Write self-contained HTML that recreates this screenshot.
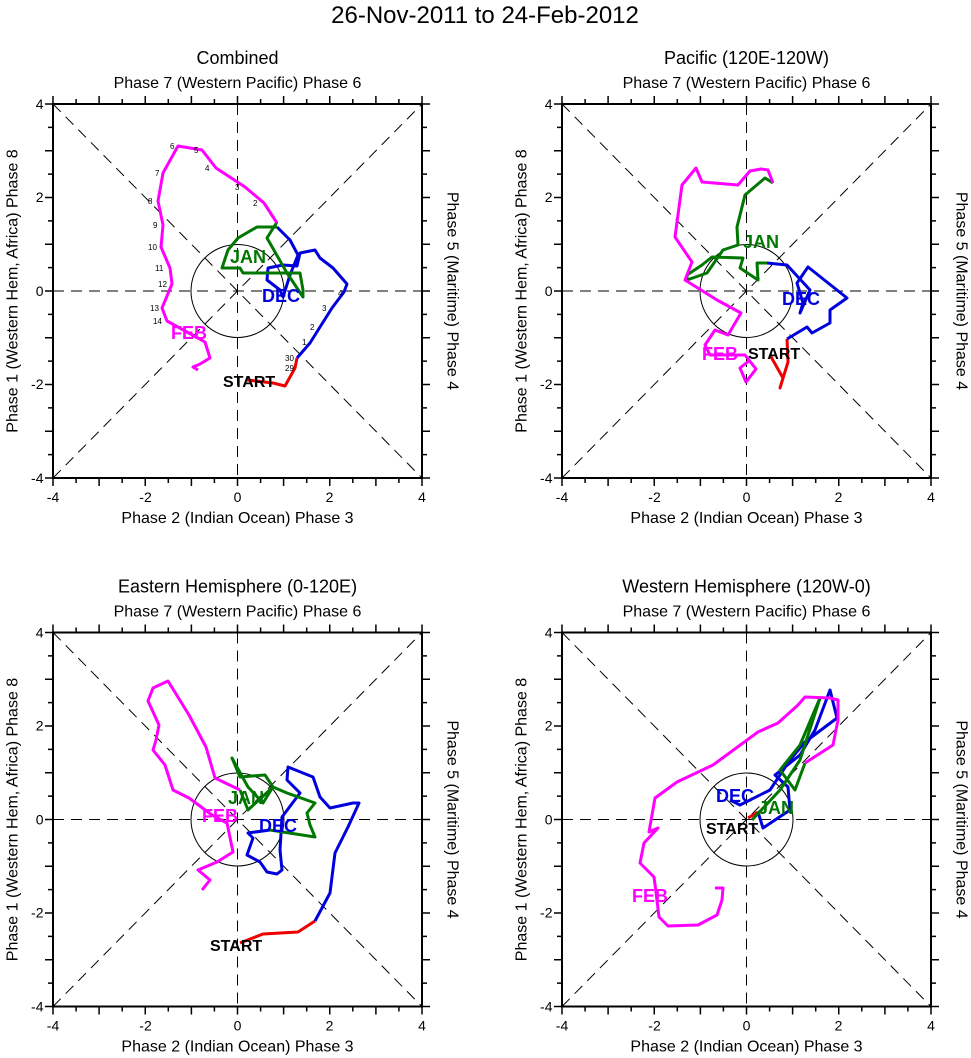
<!DOCTYPE html>
<html><head><meta charset="utf-8"><style>
body{margin:0;background:#fff;}
svg{display:block;font-family:"Liberation Sans",sans-serif;}
</style></head><body>
<svg width="971" height="1058" viewBox="0 0 971 1058" xmlns="http://www.w3.org/2000/svg">
<defs>
<g id="frame">
  <rect x="-184.5" y="-187" width="369" height="374" fill="none" stroke="#000" stroke-width="2"/>
  <g stroke="#000" stroke-width="1" stroke-dasharray="11,7" fill="none">
    <line x1="-184.5" y1="-187" x2="184.5" y2="187"/>
    <line x1="-184.5" y1="187" x2="184.5" y2="-187"/>
    <line x1="-184.5" y1="0" x2="184.5" y2="0"/>
    <line x1="0" y1="-187" x2="0" y2="187"/>
  </g>
  <circle r="46.5" fill="none" stroke="#000" stroke-width="1"/>
  <path stroke="#000" stroke-width="1.5" fill="none" d="
  M-184.5 187v8M-161.4 187v5M-138.4 187v8M-115.3 187v5M-92.25 187v8M-69.2 187v5M-46.1 187v8M-23.1 187v5M0 187v8M23.1 187v5M46.1 187v8M69.2 187v5M92.25 187v8M115.3 187v5M138.4 187v8M161.4 187v5M184.5 187v8
  M-184.5 -187v-8M-161.4 -187v-5M-138.4 -187v-8M-115.3 -187v-5M-92.25 -187v-8M-69.2 -187v-5M-46.1 -187v-8M-23.1 -187v-5M0 -187v-8M23.1 -187v-5M46.1 -187v-8M69.2 -187v-5M92.25 -187v-8M115.3 -187v-5M138.4 -187v-8M161.4 -187v-5M184.5 -187v-8
  M-184.5 -187h-8M-184.5 -163.6h-5M-184.5 -140.3h-8M-184.5 -116.9h-5M-184.5 -93.5h-8M-184.5 -70.1h-5M-184.5 -46.75h-8M-184.5 -23.4h-5M-184.5 0h-8M-184.5 23.4h-5M-184.5 46.75h-8M-184.5 70.1h-5M-184.5 93.5h-8M-184.5 116.9h-5M-184.5 140.3h-8M-184.5 163.6h-5M-184.5 187h-8
  M184.5 -187h8M184.5 -163.6h5M184.5 -140.3h8M184.5 -116.9h5M184.5 -93.5h8M184.5 -70.1h5M184.5 -46.75h8M184.5 -23.4h5M184.5 0h8M184.5 23.4h5M184.5 46.75h8M184.5 70.1h5M184.5 93.5h8M184.5 116.9h5M184.5 140.3h8M184.5 163.6h5M184.5 187h8"/>
  <g font-size="14" text-anchor="middle">
    <text x="-184.5" y="211">-4</text><text x="-92" y="211">-2</text><text x="0" y="211">0</text><text x="92" y="211">2</text><text x="184.5" y="211">4</text>
  </g>
  <g font-size="14" text-anchor="end">
    <text x="-194" y="-182">4</text><text x="-194" y="-89">2</text><text x="-194" y="5">0</text><text x="-194" y="98">-2</text><text x="-194" y="192">-4</text>
  </g>
  <text x="0" y="232" font-size="16" text-anchor="middle">Phase 2 (Indian Ocean) Phase 3</text>
  <text x="0" y="-203" font-size="16" text-anchor="middle">Phase 7 (Western Pacific) Phase 6</text>
  <text transform="translate(-220,0) rotate(-90)" font-size="16" text-anchor="middle">Phase 1 (Western Hem, Africa) Phase 8</text>
  <text transform="translate(210,0) rotate(90)" font-size="16" text-anchor="middle">Phase 5 (Maritime) Phase 4</text>
</g>
</defs>
<text x="485" y="23" font-size="24" text-anchor="middle">26-Nov-2011 to 24-Feb-2012</text>

<!-- Panel 1 -->
<g transform="translate(237.5,291)"><use href="#frame"/><text x="0" y="-227" font-size="18" text-anchor="middle">Combined</text></g>
<g fill="none" stroke-width="3" stroke-linejoin="round">
<polyline stroke="#e00" points="247,380 273,383 285,386 295,368 297,358"/>
<polyline stroke="#00d" points="297,358 310,343 320,327 332,308 344,292 347,284 333,268 320,258 315,250 300,253 297,266 283,265 268,268 267,280 280,290 283,297 290,275 298,255 290,240 277,227"/>
<polyline stroke="#070" points="277,227 257,227 238,238 228,250 222,268 240,268 243,273 300,273 303,290 303,297 287,273 267,238 277,222"/>
<polyline stroke="#f0f" points="277,223 264,203 245,187 216,168 202,150 178,146 163,173 158,201 163,225 161,247 170,268 172,284 162,308 167,321 187,332 205,342 210,358 200,364 193,367 198,370"/>
</g>
<g font-size="8"><text x="170" y="149">6</text><text x="155" y="176">7</text><text x="148" y="204">8</text><text x="153" y="228">9</text><text x="148" y="250">10</text><text x="155" y="271">11</text><text x="158" y="287">12</text><text x="150" y="311">13</text><text x="153" y="324">14</text><text x="205" y="171">4</text><text x="235" y="190">3</text><text x="253" y="206">2</text><text x="194" y="153">5</text><text x="302" y="345">1</text><text x="310" y="330">2</text><text x="322" y="311">3</text><text x="338" y="296">4</text><text x="285" y="361">30</text><text x="285" y="371">29</text></g>
<text x="171" y="339" font-size="18" font-weight="bold" fill="#f0f">FEB</text>
<text x="262" y="302" font-size="18" font-weight="bold" fill="#00d">DEC</text>
<text x="230" y="263" font-size="18" font-weight="bold" fill="#070">JAN</text>
<text x="223" y="387" font-size="16" font-weight="bold">START</text>

<!-- Panel 2 -->
<g transform="translate(746.5,291)"><use href="#frame"/><text x="0" y="-227" font-size="18" text-anchor="middle">Pacific (120E-120W)</text></g>
<g fill="none" stroke-width="3" stroke-linejoin="round">
<polyline stroke="#e00" points="770,355 783,378 780,388 788,362 787,339"/>
<polyline stroke="#00d" points="787,339 807,327 812,333 830,323 830,310 847,298 808,267 797,283 803,303 800,313 810,290 787,265 767,263"/>
<polyline stroke="#070" points="767,263 757,263 758,280 740,268 743,258 712,257 702,265 687,275 687,280 707,273 723,250 738,245 737,227 745,195 765,178 773,183"/>
<polyline stroke="#f0f" points="773,183 768,170 761,169 750,171 738,185 702,182 696,168 682,185 675,237 692,262 685,280 717,300 741,313 728,335 715,330 705,345 710,355 745,355 756,369 746,382 740,368 750,360"/>
</g>
<text x="702" y="360" font-size="18" font-weight="bold" fill="#f0f">FEB</text>
<text x="782" y="305" font-size="18" font-weight="bold" fill="#00d">DEC</text>
<text x="743" y="248" font-size="18" font-weight="bold" fill="#070">JAN</text>
<text x="748" y="359" font-size="16" font-weight="bold">START</text>

<!-- Panel 3 -->
<g transform="translate(237.5,819.5)"><use href="#frame"/><text x="0" y="-227" font-size="18" text-anchor="middle">Eastern Hemisphere (0-120E)</text></g>
<g fill="none" stroke-width="3" stroke-linejoin="round">
<polyline stroke="#e00" points="240,943 263,934 298,932 315,921"/>
<polyline stroke="#00d" points="315,921 330,893 335,853 348,827 359,803 353,803 330,808 320,797 313,777 288,767 287,780 300,793 282,817 280,850 282,870 277,874 267,872 260,862 247,855 253,838 248,833 270,830"/>
<polyline stroke="#070" points="270,830 315,837 310,825 307,813 315,803 287,793 273,787 265,775 240,777 232,758 248,787 263,803 273,787 248,810 240,790"/>
<polyline stroke="#f0f" points="240,790 215,778 206,747 189,715 168,681 153,688 148,701 159,725 156,740 153,750 165,765 173,790 189,798 212,815 227,823 233,852 217,862 198,870 210,880 202,890"/>
</g>
<text x="202" y="822" font-size="18" font-weight="bold" fill="#f0f">FEB</text>
<text x="259" y="832" font-size="18" font-weight="bold" fill="#00d">DEC</text>
<text x="228" y="804" font-size="18" font-weight="bold" fill="#070">JAN</text>
<text x="210" y="951" font-size="16" font-weight="bold">START</text>

<!-- Panel 4 -->
<g transform="translate(746.5,819.5)"><use href="#frame"/><text x="0" y="-227" font-size="18" text-anchor="middle">Western Hemisphere (120W-0)</text></g>
<g fill="none" stroke-width="3" stroke-linejoin="round">
<polyline stroke="#e00" points="748,818 758,812"/>
<polyline stroke="#00d" points="758,812 763,828 790,810 788,787 775,775 800,755 815,730 830,690 837,718 805,742 790,760 770,790 740,805 730,800"/>
<polyline stroke="#070" points="752,820 780,790 800,760 820,698 800,745 780,770 795,790 805,763"/>
<polyline stroke="#f0f" points="805,763 833,745 838,720 838,700 830,698 805,697 798,705 778,723 758,732 713,765 677,782 655,798 649,832 658,828 644,843 640,863 654,877 656,892 659,917 668,926 698,925 717,915 722,900 723,888 715,888"/>
</g>
<text x="632" y="902" font-size="18" font-weight="bold" fill="#f0f">FEB</text>
<text x="716" y="802" font-size="18" font-weight="bold" fill="#00d">DEC</text>
<text x="758" y="814" font-size="18" font-weight="bold" fill="#070">JAN</text>
<text x="706" y="834" font-size="16" font-weight="bold">START</text>
</svg>
</body></html>
